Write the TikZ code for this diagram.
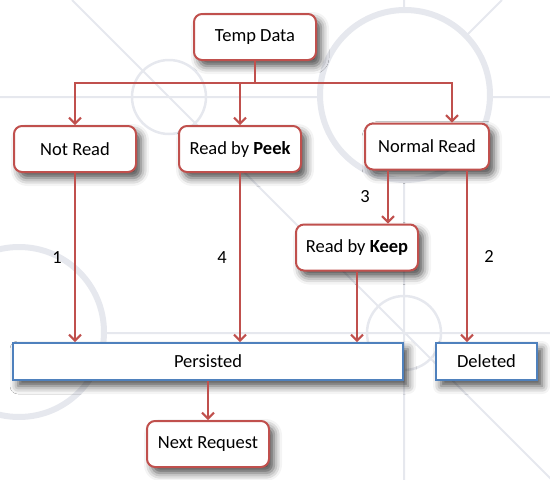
\documentclass[tikz,border=0pt]{standalone}
\usepackage{fontspec}
\setmainfont{Carlito}
\usetikzlibrary{arrows.meta,shadows.blur}
\definecolor{boxred}{RGB}{192,80,77}
\definecolor{boxblue}{RGB}{79,129,189}
\definecolor{bgline}{RGB}{230,232,238}
\begin{document}
\begin{tikzpicture}[x=1pt,y=-1pt,font=\fontsize{18.5}{21}\selectfont,
    soft/.style={blur shadow={shadow xshift=5pt,shadow yshift=-6pt,shadow blur radius=8pt,shadow opacity=70}},
    state/.style={draw=boxred,line width=2pt,rounded corners=8pt,fill=white,minimum width=122pt,minimum height=46pt,inner sep=2pt,soft},
    result/.style={draw=boxblue,line width=2pt,fill=white,minimum height=37pt,inner sep=2pt,soft},
    wire/.style={draw=boxred,line width=2pt},
    arr/.style={wire,-{Straight Barb[length=6pt,width=12pt]}}]
    \useasboundingbox (0,0) rectangle (550,480);

    \draw[bgline,line width=2pt] (0,97) -- (550,97) (0,333) -- (550,333) (404,0) -- (404,480)
        (72,0) -- (552,480) (502,0) -- (405,97);
    \draw[bgline,line width=6pt,fill=white] (405,95) circle[radius=85pt] (19,332) circle[radius=85pt];
    \draw[bgline,line width=2.5pt] (169,97) circle[radius=37pt] (404,333) circle[radius=37pt];

    \node[state] (temp) at (255,37) {Temp Data};
    \node[state] (notread) at (75,149) {Not Read};
    \node[state] (peek) at (240,149) {Read by \textbf{Peek}};
    \node[state,minimum width=124pt] (normal) at (427,146.5) {Normal Read};
    \node[state] (keep) at (357,247.5) {Read by \textbf{Keep}};
    \node[result,minimum width=390pt] (persist) at (208,361.5) {Persisted};
    \node[result,minimum width=101pt] (deleted) at (486.5,361.5) {Deleted};
    \node[state] (next) at (208,444) {Next Request};

    \coordinate (split) at (255,83);
    \draw[wire] (temp) -- (split);
    \draw[arr] (split) -| (notread);
    \draw[arr] (split) -| (peek);
    \draw[arr] (split) -| ([xshift=25pt]normal.north);

    \draw[arr] ([xshift=-39pt]normal.south) -- ([xshift=-39pt]normal.south |- keep.north) node[midway,left=14pt] {3};
    \draw[arr] ([xshift=40pt]normal.south) -- ([xshift=40pt]normal.south |- deleted.north) node[midway,right=13pt] {2};
    \draw[arr] (notread) -- (notread |- persist.north) node[midway,left=9pt] {1};
    \draw[arr] (peek) -- (peek |- persist.north) node[midway,left=9pt] {4};
    \draw[arr] (keep) -- (keep |- persist.north);
    \draw[arr] (persist) -- (next);
\end{tikzpicture}
\end{document}
